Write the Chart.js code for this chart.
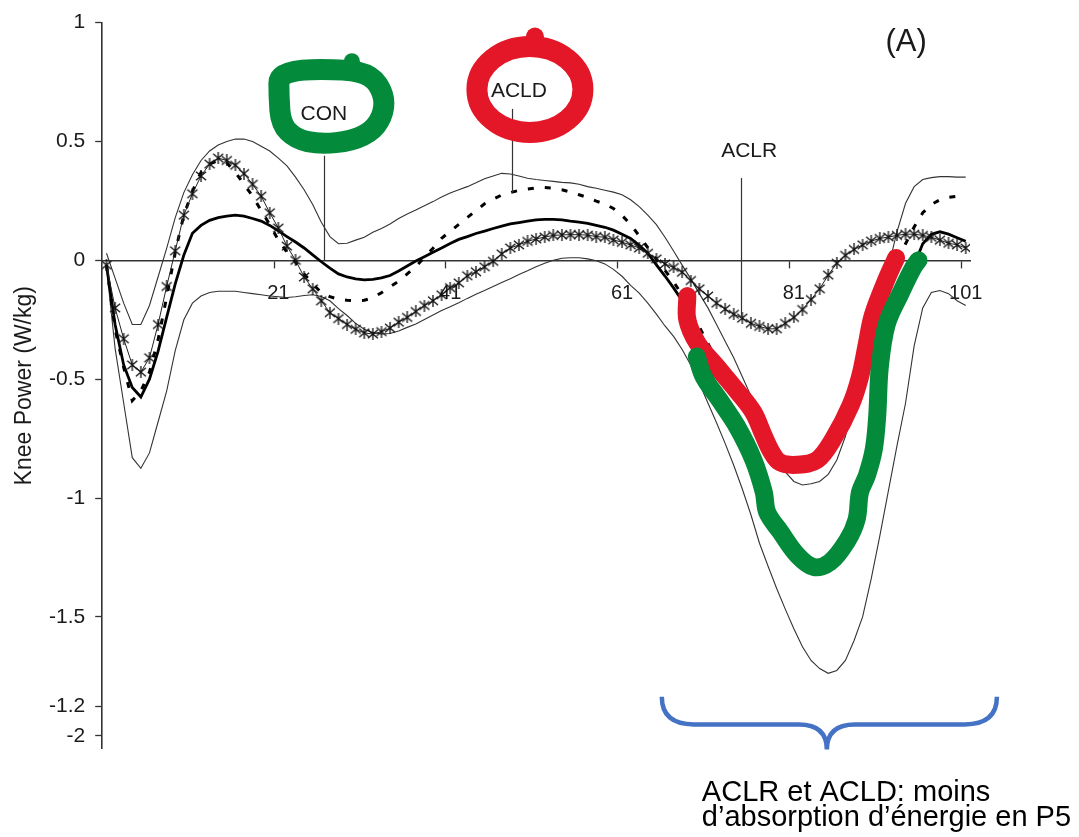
<!DOCTYPE html>
<html>
<head>
<meta charset="utf-8">
<script src="https://cdn.jsdelivr.net/npm/chart.js@4.4.1/dist/chart.umd.min.js"></script>
<style>
  html, body { margin: 0; padding: 0; background: #ffffff; }
  canvas { display: block; }
</style>
</head>
<body>
<canvas id="kneePower" width="1079" height="837"></canvas>
<script>
// Percent of gait cycle (1..101)
const gaitCycle = Array.from({ length: 101 }, (_, i) => i + 1);

// Knee power (W/kg), group means and the CON ±SD band
const conMean = [
  -0.02, -0.27, -0.44, -0.535, -0.575, -0.5, -0.383, -0.24, -0.099, 0.022,
  0.114, 0.147, 0.168, 0.18, 0.186, 0.19, 0.186, 0.176, 0.165, 0.147,
  0.124, 0.1, 0.077, 0.052, 0.023, -0.006, -0.033, -0.057, -0.07, -0.078,
  -0.082, -0.08, -0.074, -0.064, -0.045, -0.024, -0.003, 0.015, 0.034, 0.052,
  0.071, 0.088, 0.1, 0.113, 0.123, 0.134, 0.144, 0.153, 0.159, 0.165,
  0.17, 0.172, 0.172, 0.17, 0.165, 0.161, 0.155, 0.147, 0.139, 0.127,
  0.11, 0.092, 0.063, 0.03, -0.019, -0.066, -0.116, -0.17, -0.25, -0.36,
  -0.45, -0.53, -0.6, -0.68, -0.76, -0.84, -0.93, -1.06, -1.13, -1.19,
  -1.23, -1.27, -1.29, -1.29, -1.27, -1.23, -1.17, -1.08, -0.92, -0.78,
  -0.47, -0.27, -0.16, -0.08, -0.02, 0.07, 0.11, 0.12, 0.11, 0.095,
  0.08
];
const conUpper = [
  0.03, -0.075, -0.18, -0.27, -0.27, -0.19, -0.07, 0.05, 0.18, 0.285,
  0.36, 0.42, 0.46, 0.485, 0.5, 0.51, 0.51, 0.5, 0.48, 0.46,
  0.43, 0.397, 0.35, 0.297, 0.235, 0.16, 0.1, 0.07, 0.072, 0.085,
  0.097, 0.118, 0.134, 0.153, 0.176, 0.195, 0.212, 0.23, 0.247, 0.266,
  0.283, 0.297, 0.31, 0.326, 0.343, 0.355, 0.366, 0.363, 0.355, 0.345,
  0.34, 0.336, 0.332, 0.328, 0.326, 0.32, 0.31, 0.303, 0.295, 0.287,
  0.276, 0.255, 0.226, 0.19, 0.15, 0.097, 0.039, -0.02, -0.078, -0.14,
  -0.2, -0.27, -0.34, -0.41, -0.49, -0.57, -0.65, -0.73, -0.82, -0.89,
  -0.93, -0.945, -0.94, -0.93, -0.9, -0.84, -0.74, -0.6, -0.46, -0.32,
  -0.18, -0.03, 0.12, 0.24, 0.31, 0.34, 0.348, 0.352, 0.352, 0.35,
  0.35
];
const conLower = [
  -0.03, -0.37, -0.6, -0.83, -0.875, -0.81, -0.68, -0.55, -0.38, -0.25,
  -0.18, -0.15, -0.135, -0.13, -0.13, -0.13, -0.135, -0.14, -0.145, -0.15,
  -0.153, -0.156, -0.153, -0.148, -0.145, -0.152, -0.17, -0.203, -0.232, -0.265,
  -0.29, -0.304, -0.31, -0.308, -0.297, -0.282, -0.268, -0.249, -0.23, -0.211,
  -0.195, -0.178, -0.16, -0.143, -0.127, -0.11, -0.093, -0.077, -0.06, -0.044,
  -0.027, -0.012, 0.0, 0.009, 0.011, 0.011, 0.006, -0.002, -0.015, -0.038,
  -0.067, -0.105, -0.138, -0.18, -0.226, -0.276, -0.32, -0.375, -0.44, -0.517,
  -0.6, -0.683, -0.77, -0.862, -0.962, -1.07, -1.19, -1.287, -1.38, -1.467,
  -1.55, -1.625, -1.683, -1.717, -1.737, -1.725, -1.683, -1.6, -1.5, -1.34,
  -1.16, -0.97, -0.78, -0.6, -0.36, -0.2, -0.135, -0.127, -0.14, -0.17,
  -0.19
];
const acldMean = [
  -0.02, -0.29, -0.45, -0.59, -0.55, -0.47, -0.335, -0.155, 0.035, 0.19,
  0.29, 0.37, 0.405, 0.42, 0.41, 0.37, 0.32, 0.27, 0.21, 0.15,
  0.085, 0.035, -0.007, -0.057, -0.099, -0.136, -0.153, -0.164, -0.168, -0.17,
  -0.168, -0.157, -0.136, -0.111, -0.088, -0.057, -0.027, 0.013, 0.051, 0.093,
  0.122, 0.151, 0.18, 0.209, 0.238, 0.257, 0.275, 0.285, 0.294, 0.3,
  0.305, 0.306, 0.303, 0.297, 0.287, 0.276, 0.264, 0.249, 0.237, 0.218,
  0.189, 0.151, 0.103, 0.053, 0.004, -0.042, -0.09, -0.146, -0.21, -0.28,
  -0.35, -0.42, -0.48, -0.54, -0.6, -0.65, -0.7, -0.75, -0.8, -0.83,
  -0.85, -0.86, -0.855, -0.83, -0.79, -0.74, -0.67, -0.59, -0.49, -0.37,
  -0.24, -0.11, 0.0, 0.07, 0.14, 0.2, 0.235, 0.255, 0.265, 0.27,
  0.27
];
const aclrMean = [
  -0.02, -0.2, -0.33, -0.44, -0.47, -0.41, -0.27, -0.11, 0.04, 0.19,
  0.28, 0.355, 0.405, 0.43, 0.42, 0.4, 0.365, 0.32, 0.27, 0.2,
  0.136, 0.06, 0.0, -0.07, -0.12, -0.17, -0.22, -0.245, -0.27, -0.29,
  -0.305, -0.31, -0.3, -0.285, -0.26, -0.24, -0.215, -0.19, -0.17, -0.145,
  -0.115, -0.095, -0.065, -0.048, -0.027, -0.004, 0.027, 0.052, 0.065, 0.08,
  0.09, 0.098, 0.105, 0.107, 0.108, 0.108, 0.106, 0.1, 0.097, 0.086,
  0.076, 0.065, 0.052, 0.03, 0.006, -0.015, -0.03, -0.05, -0.085, -0.12,
  -0.15, -0.18, -0.205, -0.227, -0.243, -0.265, -0.278, -0.288, -0.288, -0.265,
  -0.24, -0.207, -0.165, -0.12, -0.062, -0.012, 0.021, 0.046, 0.065, 0.081,
  0.092, 0.098, 0.105, 0.11, 0.11, 0.105, 0.097, 0.085, 0.072, 0.065,
  0.052
];

// Hand-drawn highlight strokes over the ACLD and CON troughs
const redTraceX = [68.6, 68.6, 69.8, 72.1, 74.4, 76.3, 77.4, 78.3, 79.4, 81.4, 83.7, 85.6, 87.6, 88.7, 89.5, 90.2, 91.9, 92.9];
const redTraceY = [-0.15, -0.25, -0.35, -0.45, -0.55, -0.64, -0.73, -0.8, -0.85, -0.86, -0.84, -0.75, -0.61, -0.49, -0.35, -0.23, -0.07, 0.01];
const greenTraceX = [69.7, 70.5, 72.4, 74.4, 76.3, 77.5, 77.9, 79.4, 81.4, 83.3, 85.2, 87.2, 88.3, 88.7, 89.5, 90.3, 90.7, 91.0, 91.8, 93.4, 94.9, 95.5];
const greenTraceY = [-0.405, -0.49, -0.59, -0.7, -0.84, -0.975, -1.06, -1.14, -1.24, -1.29, -1.27, -1.18, -1.09, -0.975, -0.905, -0.795, -0.655, -0.45, -0.27, -0.14, -0.03, 0.0];

// Axis ticks
const yTickValues = [1, 0.5, 0, -0.5, -1, -1.5, -1.875, -2];
const yTickLabels = ['1', '0.5', '0', '-0.5', '-1', '-1.5', '-1.2', '-2'];
const xTickLabels = ['21', '41', '61', '81', '101'];

// Group labels with their leader lines (data units)
const seriesLabels = [
  { text: 'CON',  x: 26.3, y: 0.615, leaderX: 26.3,  leaderFrom: 0.44,  leaderTo: 0.0 },
  { text: 'ACLD', x: 49.0, y: 0.71,  leaderX: 48.2,  leaderFrom: 0.637, leaderTo: 0.285 },
  { text: 'ACLR', x: 75.8, y: 0.458, leaderX: 74.86, leaderFrom: 0.346, leaderTo: -0.243 }
];
const noteLines = ['ACLR et ACLD: moins', 'd\u2019absorption d\u2019énergie en P5'];

const FONT = '"Liberation Sans", Arial, Helvetica, sans-serif';
const GREEN = '#038a3b';
const RED = '#e41729';
const BLUE = '#4472c4';

const pts = (xs, ys) => ys.map((v, i) => ({ x: xs[i], y: v }));

// Asterisk marker (x-cross with a vertical stroke)
const asterisk = (() => {
  const c = document.createElement('canvas');
  c.width = 12; c.height = 12;
  const g = c.getContext('2d');
  g.strokeStyle = '#111';
  g.lineWidth = 1.3;
  g.beginPath();
  g.moveTo(1, 1.8); g.lineTo(11, 10.2);
  g.moveTo(11, 1.8); g.lineTo(1, 10.2);
  g.moveTo(6, 0); g.lineTo(6, 12);
  g.stroke();
  return c;
})();

// Labels, leader lines, rings, brace and note
const annotate = {
  id: 'annotate',
  afterDatasetsDraw(chart) {
    const { ctx, scales: { x, y } } = chart;
    const px = v => x.getPixelForValue(v);
    const py = v => y.getPixelForValue(v);
    ctx.save();

    // leader lines
    ctx.strokeStyle = '#333';
    ctx.lineWidth = 1.2;
    seriesLabels.forEach(l => {
      const lx = Math.round(px(l.leaderX)) + 0.5;
      ctx.beginPath();
      ctx.moveTo(lx, py(l.leaderFrom));
      ctx.lineTo(lx, py(l.leaderTo));
      ctx.stroke();
    });

    // label text
    ctx.fillStyle = '#1a1a1a';
    ctx.font = '21px ' + FONT;
    ctx.textAlign = 'center';
    ctx.textBaseline = 'middle';
    seriesLabels.forEach(l => ctx.fillText(l.text, px(l.x), py(l.y)));

    // panel letter
    ctx.font = '31px ' + FONT;
    ctx.fillText('(A)', px(94.07), py(0.917));

    // green ring round CON
    const con = seriesLabels[0];
    const cx = px(con.x), cy = py(con.y);
    const ringPts = [[-45, -44], [21, -45], [48, -39], [60, -20], [60, -2], [50, 16], [28, 27], [-4, 30], [-28, 25], [-43, 10], [-45, -18]]
      .map(p => [cx + p[0], cy + p[1]]);
    ctx.strokeStyle = GREEN;
    ctx.fillStyle = GREEN;
    ctx.lineWidth = 21;
    ctx.lineJoin = 'round';
    ctx.lineCap = 'round';
    ctx.beginPath();
    const n = ringPts.length;
    const mid = (a, b) => [(a[0] + b[0]) / 2, (a[1] + b[1]) / 2];
    const m = mid(ringPts[n - 1], ringPts[0]);
    ctx.moveTo(m[0], m[1]);
    for (let i = 0; i < n; i++) {
      const p = ringPts[i];
      const q = mid(p, ringPts[(i + 1) % n]);
      ctx.quadraticCurveTo(p[0], p[1], q[0], q[1]);
    }
    ctx.closePath();
    ctx.stroke();
    ctx.beginPath();
    ctx.arc(cx + 28, cy - 53, 8, 0, Math.PI * 2);
    ctx.fill();

    // red ring round ACLD
    const acld = seriesLabels[1];
    const ax = px(acld.x), ay = py(acld.y);
    ctx.strokeStyle = RED;
    ctx.fillStyle = RED;
    ctx.beginPath();
    ctx.ellipse(ax + 11, ay - 2, 53, 43, 0, 0, Math.PI * 2);
    ctx.stroke();
    ctx.beginPath();
    ctx.arc(ax + 16, ay - 55, 9, 0, Math.PI * 2);
    ctx.fill();

    ctx.restore();
  },
  afterDraw(chart) {
    const { ctx, scales: { x, y } } = chart;
    const px = v => x.getPixelForValue(v);
    const py = v => y.getPixelForValue(v);
    ctx.save();

    // curly brace under the late-swing trough
    const L = px(65.63), R = px(104.63), C = px(84.84);
    const T = py(-1.836), B = py(-1.952), tip = py(-2.058);
    ctx.strokeStyle = BLUE;
    ctx.lineWidth = 4.5;
    ctx.lineCap = 'butt';
    ctx.beginPath();
    ctx.moveTo(L, T);
    ctx.quadraticCurveTo(L, B, L + 32, B);
    ctx.lineTo(C - 28, B);
    ctx.quadraticCurveTo(C, B, C, tip);
    ctx.quadraticCurveTo(C, B, C + 28, B);
    ctx.lineTo(R - 32, B);
    ctx.quadraticCurveTo(R, B, R, T);
    ctx.stroke();

    // note
    ctx.fillStyle = '#000';
    ctx.font = '29px ' + FONT;
    ctx.textAlign = 'left';
    ctx.textBaseline = 'alphabetic';
    const nx = px(70.29);
    const ny = py(-2.274);
    noteLines.forEach((t, i) => ctx.fillText(t, nx, ny + i * 25));
    ctx.restore();
  }
};

Chart.defaults.font.family = FONT;

new Chart(document.getElementById('kneePower'), {
  type: 'line',
  data: {
    datasets: [
      { label: 'CON (highlight)', data: pts(greenTraceX, greenTraceY), borderColor: GREEN, borderWidth: 18,
        borderCapStyle: 'round', borderJoinStyle: 'round', tension: 0.35, pointRadius: 0, order: 0 },
      { label: 'ACLD (highlight)', data: pts(redTraceX, redTraceY), borderColor: RED, borderWidth: 18,
        borderCapStyle: 'round', borderJoinStyle: 'round', tension: 0.35, pointRadius: 0, order: 1 },
      { label: 'ACLR', data: pts(gaitCycle, aclrMean), borderColor: '#222', borderWidth: 1,
        pointStyle: asterisk, pointRadius: 5, tension: 0, order: 2 },
      { label: 'CON', data: pts(gaitCycle, conMean), borderColor: '#000', borderWidth: 2.8,
        pointRadius: 0, tension: 0, order: 3 },
      { label: 'ACLD', data: pts(gaitCycle, acldMean), borderColor: '#000', borderWidth: 3,
        borderDash: [6, 11], pointRadius: 0, tension: 0, order: 4 },
      { label: 'CON + SD', data: pts(gaitCycle, conUpper), borderColor: '#333', borderWidth: 1.1,
        pointRadius: 0, tension: 0, order: 5 },
      { label: 'CON - SD', data: pts(gaitCycle, conLower), borderColor: '#333', borderWidth: 1.1,
        pointRadius: 0, tension: 0, order: 6 }
    ]
  },
  options: {
    responsive: false,
    devicePixelRatio: 1,
    animation: false,
    layout: { padding: { top: 15.7, right: 109, bottom: 88.1, left: 0 } },
    plugins: { legend: { display: false }, tooltip: { enabled: false } },
    scales: {
      x: {
        type: 'linear',
        min: 0.5,
        max: 101.5,
        position: { y: 0 },
        afterBuildTicks: s => { s.ticks = xTickLabels.map(l => ({ value: Number(l) - 0.5 })); },
        afterFit: s => { s.height = 0; },
        ticks: {
          callback: (v, i) => xTickLabels[i],
          labelOffset: 4.3,
          padding: 14,
          autoSkip: false,
          maxRotation: 0,
          color: '#1a1a1a',
          font: { size: 20 }
        },
        grid: { drawOnChartArea: false, drawTicks: true, tickLength: 7, tickColor: '#333', tickWidth: 1.3 },
        border: { display: true, color: '#333', width: 1.4 }
      },
      y: {
        type: 'linear',
        min: -2.055,
        max: 1,
        afterBuildTicks: s => { s.ticks = yTickValues.map(v => ({ value: v })); },
        afterFit: s => { s.width = 102.2; },
        ticks: {
          callback: (v, i) => yTickLabels[i],
          padding: 10,
          autoSkip: false,
          color: '#1a1a1a',
          font: { size: 21 }
        },
        grid: { drawOnChartArea: false, drawTicks: true, tickLength: 7, tickColor: '#333', tickWidth: 1.3 },
        border: { display: true, color: '#333', width: 1.6 },
        title: {
          display: true,
          text: 'Knee Power (W/kg)',
          color: '#1a1a1a',
          font: { size: 23 },
          padding: { top: 11, bottom: 0 }
        }
      }
    }
  },
  plugins: [annotate]
});
</script>
</body>
</html>
